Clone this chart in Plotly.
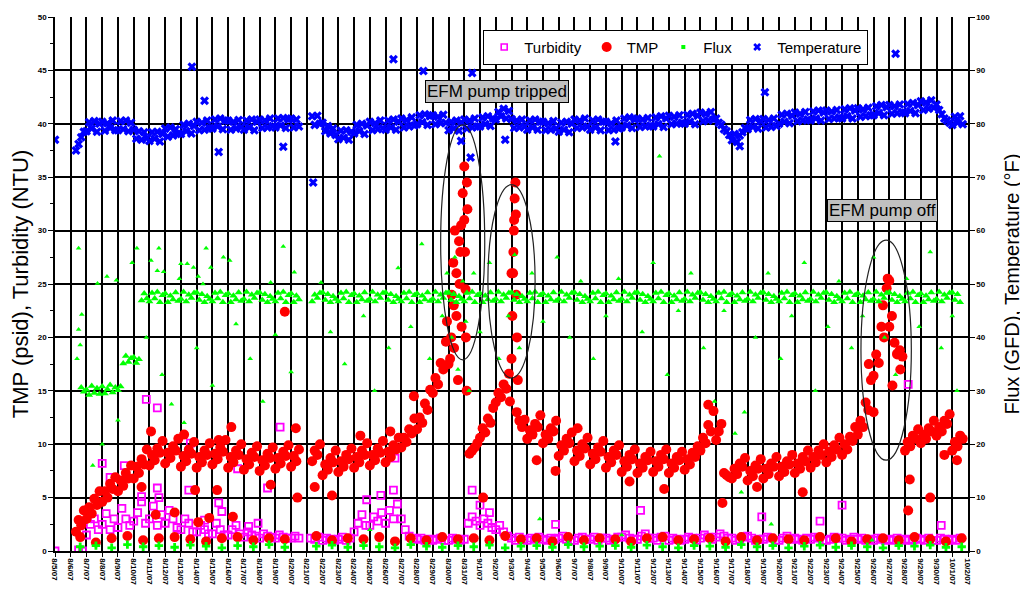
import datetime as dt
import plotly.graph_objects as go

START = dt.datetime(2007, 8, 5)
N_DAYS = 58
N = None

# ---- TMP (psid), 6 samples per day (every 4 h) ----
TMP_PSI = [
    N, N, N, N, N, N,                  # 0
    N, N, 1.8, 2.9, 2.4, 3.8,          # 1
    3.0, 4.1, 3.5, 4.9, 4.3, 5.6,      # 2
    4.6, 5.6, 5.0, 6.3, 5.8, 6.9,      # 3
    5.6, 6.6, 6.1, 7.3, 6.8, 8.0,      # 4
    6.8, 7.9, 7.3, 8.6, 8.1, 9.5,      # 5
    8.0, 9.0, 8.5, 9.6, 9.2, 10.3,     # 6
    8.2, 9.2, 8.7, 9.8, 9.4, 10.5,     # 7
    7.9, 8.9, 8.4, 9.5, 9.1, 10.2,     # 8
    7.8, 8.8, 8.3, 9.4, 9.0, 10.1,     # 9
    8.1, 9.1, 8.6, 9.7, 9.3, 10.4,     # 10
    7.8, 8.8, 8.3, 9.4, 9.0, 10.0,     # 11
    7.6, 8.6, 8.1, 9.2, 8.8, 9.8,      # 12
    7.5, 8.5, 8.0, 9.1, 8.7, 9.7,      # 13
    7.7, 8.7, 8.2, 9.3, 8.9, 9.9,      # 14
    7.9, 8.9, 8.4, 9.5, N, N,          # 15
    N, N, 8.4, 9.4, 9.0, 10.0,         # 16
    7.1, 8.1, 7.6, 8.7, 8.3, 9.4,      # 17
    7.4, 8.4, 7.9, 9.0, 8.6, 9.6,      # 18
    7.8, 8.8, 8.3, 9.4, 9.0, 10.1,     # 19
    8.0, 9.0, 8.5, 9.6, 9.2, 10.3,     # 20
    8.3, 9.3, 8.8, 9.9, 9.5, 10.6,     # 21
    9.7, 10.6, 10.2, 11.4, 11.0, 12.4,     # 22
    11.4, 12.5, 12.0, 13.8, 13.2, 15.1,    # 23
    14.8, 16.2, 15.6, 17.6, 17.0, 19.6,    # 24
    17.5, 20.0, 23.0, 26.0, 29.0, 21.0,    # 25
    31.0, 34.5, 9.1, 9.4, 9.7, 10.1,       # 26
    10.6, 11.5, 11.1, 12.4, 12.0, 13.4,    # 27
    13.9, 14.8, 14.4, 15.6, 15.2, 16.6,    # 28
    26.0, 31.0, 13.0, 12.2, 11.6, 12.3,    # 29
    10.5, 11.3, 10.9, 11.9, 11.6, 12.7,    # 30
    10.1, 10.9, 10.5, 11.5, 11.2, 12.2,    # 31
    8.9, 9.9, 9.4, 10.5, 10.1, 11.1,       # 32
    8.4, 9.4, 8.9, 10.0, 9.6, 10.6,        # 33
    8.1, 9.1, 8.6, 9.7, 9.3, 10.3,         # 34
    7.8, 8.8, 8.3, 9.4, 9.0, 9.9,          # 35
    7.4, 8.4, 7.9, 9.0, 8.6, 9.5,          # 36
    7.3, 8.2, 7.8, 8.8, 8.5, 9.3,          # 37
    7.4, 8.4, 7.9, 9.0, 8.6, 9.5,          # 38
    7.3, 8.2, 7.8, 8.8, 8.5, 9.3,          # 39
    7.6, 8.6, 8.1, 9.2, 8.8, 9.8,          # 40
    9.4, 10.6, 10.1, 11.8, 11.2, 13.1,     # 41
    10.4, 11.2, 11.9, 7.3, 7.1, 6.9,       # 42
    6.8, 7.7, 7.2, 8.2, 7.9, 8.7,          # 43
    6.6, 7.5, 7.0, 8.0, 7.7, 8.6,          # 44
    6.8, 7.7, 7.2, 8.2, 7.9, 8.8,          # 45
    7.0, 7.9, 7.4, 8.4, 8.1, 9.0,          # 46
    7.3, 8.2, 7.7, 8.8, 8.4, 9.4,          # 47
    7.8, 8.8, 8.3, 9.4, 9.0, 10.0,         # 48
    8.3, 9.3, 8.8, 9.9, 9.5, 10.6,         # 49
    9.0, 10.0, 9.5, 10.7, 10.3, 11.6,      # 50
    10.9, 12.2, 11.6, 13.9, 13.2, 16.0,    # 51
    16.4, 18.4, 17.6, 21.0, 20.0, 24.6,    # 52
    25.3, 22.0, 19.5, 18.4, 18.8, 18.2,    # 53
    9.4, 10.2, 9.8, 10.8, 10.5, 11.4,      # 54
    10.1, 10.9, 10.5, 11.5, 11.2, 12.2,    # 55
    10.8, 11.6, 11.2, 12.2, 11.9, 12.8,    # 56
    9.4, 10.2, 9.8, 10.8, 10.5, N,         # 57
]
# one low TMP reading per day (pump stop), at day + 0.6
TMP_LOW = [N, 1.3, 0.8, 1.2, 1.4, 1.0, 1.2, 1.3, 1.1, 0.9, 1.2, 1.3, 1.0, 1.2, 1.1, N,
           1.4, 1.0, 1.2, 1.1, 1.3, 0.9, 1.2, 1.0, 1.3, 1.1, 1.2, 1.0, 1.4, 1.1, 1.2, 0.9,
           1.3, 1.0, 1.2, 1.1, 0.9, 1.2, 1.3, 1.0, 1.1, 1.2, 0.9, 1.3, 1.0, 1.2, 1.1, 1.0,
           1.3, 1.2, 0.9, 1.1, 1.2, 1.0, 1.3, 1.1, 0.9, 1.2]
TMP_EXTRA_DAY = [5.5, 6.4, 7.6, 8.9, 9.1, 9.8, 10.3, 11.3, 13.7, 14.6, 6.1, 8.2, 10.4, 11.2,
                 15.3, 15.4, 16.5, 17.6, 19.4, 21.3, 22.8, 24.9, 25.1, 25.2, 25.3, 25.4, 25.5,
                 25.6, 25.7, 25.8, 25.9, 26.0, 26.05, 26.1, 26.15, 26.2, 27.2, 28.9, 29.0,
                 29.05, 29.1, 29.15, 29.2, 29.25, 29.3, 29.35, 29.4, 30.6, 31.8, 33.2, 36.5,
                 38.7, 41.5, 42.4, 44.6, 47.5, 51.7, 52.0, 52.6, 52.9, 53.0, 53.2, 53.5, 53.7,
                 54.3, 54.2, 55.6, 56.5, 57.3, 25.35, 25.75, 26.08, 29.12, 29.28]
TMP_EXTRA_VAL = [6.0, 3.4, 3.6, 5.7, 2.7, 3.1, 5.7, 3.2, 6.2, 22.4, 11.2, 10.9, 10.4, 11.6,
                 11.5, 5.0, 6.0, 5.2, 10.8, 11.2, 14.5, 21.5, 18.0, 24.0, 27.0, 30.0, 22.0,
                 16.0, 25.0, 30.5, 33.5, 36.0, 28.0, 20.0, 15.0, 32.0, 5.0, 14.0, 18.0,
                 22.0, 26.0, 30.0, 33.0, 34.5, 24.0, 20.0, 16.0, 8.5, 7.5, 11.5, 6.5,
                 5.8, 13.7, 4.5, 6.0, 5.5, 17.5, 13.0, 23.0, 25.5, 21.0, 15.5, 18.5, 17.0,
                 6.7, 3.8, 5.0, 9.0, 8.5, 19.0, 28.0, 24.5, 28.0, 31.5]

# ---- Turbidity (NTU), 4 samples per day (every 6 h) ----
TURB_NTU = [
    0.0, N, N, N,        # 0
    N, N, 0.1, 0.0,      # 1
    1.5, 2.5, 3.0, 2.0,  # 2
    2.5, 3.5, 2.0, 3.0,  # 3
    2.2, 4.0, 3.0, 2.4,  # 4
    2.8, 3.6, 4.6, 2.6,  # 5
    3.0, 4.2, 2.4, 3.4,  # 6
    2.6, 3.8, 3.0, 2.2,  # 7
    2.0, 3.0, 2.6, 1.8,  # 8
    1.8, 2.4, 2.0, 1.6,  # 9
    1.6, 2.6, 2.0, 1.5,  # 10
    1.5, 2.0, 2.4, 1.6,  # 11
    1.3, 1.8, 1.5, 1.4,  # 12
    1.2, 1.6, 1.4, 1.3,  # 13
    1.2, 1.5, 1.3, 1.2,  # 14
    1.2, 1.4, 1.2, N,    # 15
    N, 1.2, 1.1, 1.3,    # 16
    1.0, 1.2, 1.1, 1.0,  # 17
    1.1, 1.3, 1.0, 1.2,  # 18
    1.8, 2.6, 3.4, 2.4,  # 19
    2.4, 3.2, 2.8, 3.6,  # 20
    2.6, 3.8, 3.0, 4.4,  # 21
    3.0, 2.0, 1.4, 1.2,  # 22
    1.1, 1.2, 1.0, 1.1,  # 23
    1.0, 1.1, 1.2, 1.0,  # 24
    1.0, 1.2, 1.1, 1.0,  # 25
    1.1, 2.6, 3.2, 2.8,  # 26
    2.4, 3.0, 2.6, 2.2,  # 27
    2.0, 2.4, 1.8, 1.4,  # 28
    1.2, 1.0, 1.3, 1.1,  # 29
    1.0, 1.2, 1.1, 1.3,  # 30
    1.1, 1.0, 1.2, 1.1,  # 31
    1.2, 1.4, 1.1, 1.0,  # 32
    1.0, 1.2, 1.3, 1.1,  # 33
    1.1, 1.3, 1.0, 1.2,  # 34
    1.2, 1.0, 1.1, 1.3,  # 35
    1.3, 1.5, 1.2, 1.1,  # 36
    1.1, 1.4, 1.6, 1.2,  # 37
    1.2, 1.0, 1.3, 1.4,  # 38
    1.0, 1.2, 1.1, 1.0,  # 39
    1.1, 1.3, 1.2, 1.0,  # 40
    1.2, 1.5, 1.3, 1.1,  # 41
    1.3, 1.6, 1.4, 1.2,  # 42
    1.2, 1.0, 1.1, 1.3,  # 43
    1.4, 1.2, 1.0, 1.1,  # 44
    1.1, 1.3, 1.2, 1.0,  # 45
    1.0, 1.2, 1.4, 1.1,  # 46
    1.2, 1.1, 1.0, 1.2,  # 47
    1.1, 1.3, 1.2, 1.0,  # 48
    1.0, 1.1, 1.3, 1.2,  # 49
    1.2, 1.0, 1.1, 1.3,  # 50
    1.1, 1.2, 1.0, 1.1,  # 51
    1.0, 1.2, 1.1, 1.0,  # 52
    1.1, 1.0, 1.2, 1.1,  # 53
    1.0, 1.1, 1.0, 1.2,  # 54
    1.1, 1.0, 1.2, 1.0,  # 55
    1.0, 1.2, 1.1, 1.0,  # 56
    1.1, 1.0, 1.2, N,    # 57
]
TURB_EXTRA_DAY = [5.8, 6.5, 3.0, 3.5, 4.4, 6.5, 6.6, 8.6, 8.5, 10.4, 10.6, 11.6, 13.5, 14.3,
                  5.5, 9.5, 12.3, 12.9, 21.6, 21.5, 19.8, 20.7, 26.5, 27.0, 27.6, 31.8,
                  37.2, 50.0, 54.2, 48.6, 44.9, 56.3]
TURB_EXTRA_VAL = [14.2, 13.4, 8.2, 6.9, 8.0, 5.9, 5.0, 10.1, 5.7, 4.5, 3.7, 7.7, 5.9, 11.6,
                  5.1, 2.9, 2.3, 2.6, 8.7, 5.7, 4.8, 5.2, 5.7, 4.3, 3.6, 2.5,
                  3.8, 4.3, 15.6, 2.8, 3.2, 2.4]

# ---- Flux (GFD), 6 samples per day ----
FLUX_GFD = [
    N, N, N, N, N, N,                    # 0
    N, N, N, N, 30.6, 29.8,              # 1
    30.2, 29.2, 30.9, 29.6, 30.5, 29.4,  # 2
    30.8, 29.5, 30.3, 31.1, 29.7, 30.6,  # 3
    30.1, 30.8, 35.1, 36.5, 35.4, 36.1,  # 4
    36.3, 35.2, 35.9, 46.9, 48.2, 47.3,  # 5
    46.7, 48.3, 47.3, 48.5, 46.6, 47.9,  # 6
    48.2, 46.6, 47.8, 47.1, 48.4, 46.8,  # 7
    47.2, 48.5, 46.7, 48.0, 47.4, 48.3,  # 8
    48.4, 47.0, 48.1, 46.6, 47.7, 47.2,  # 9
    46.7, 48.3, 47.3, 48.5, 46.6, 47.9,  # 10
    48.2, 46.6, 47.8, 47.1, 48.4, 46.8,  # 11
    47.2, 48.5, 46.7, 48.0, 47.4, 48.3,  # 12
    48.4, 47.0, 48.1, 46.6, 47.7, 47.2,  # 13
    46.7, 48.3, 47.3, 48.5, 46.6, 47.9,  # 14
    48.2, 46.6, 47.8, 47.1, N, N,        # 15
    N, N, 46.7, 48.0, 47.4, 48.3,        # 16
    48.4, 47.0, 48.1, 46.6, 47.7, 47.2,  # 17
    46.7, 48.3, 47.3, 48.5, 46.6, 47.9,  # 18
    48.2, 46.6, 47.8, 47.1, 48.4, 46.8,  # 19
    47.2, 48.5, 46.7, 48.0, 47.4, 48.3,  # 20
    48.4, 47.0, 48.1, 46.6, 47.7, 47.2,  # 21
    46.7, 48.3, 47.3, 48.5, 46.6, 47.9,  # 22
    48.2, 46.6, 47.8, 47.1, 48.4, 46.8,  # 23
    47.2, 48.5, 46.7, 48.0, 47.4, 48.3,  # 24
    48.4, 47.0, 48.1, 46.6, 47.7, 47.2,  # 25
    46.7, 48.3, 47.3, 48.5, 46.6, 47.9,  # 26
    48.2, 46.6, 47.8, 47.1, 48.4, 46.8,  # 27
    47.2, 48.5, 46.7, 48.0, 47.4, 48.3,  # 28
    48.4, 47.0, 48.1, 46.6, 47.7, 47.2,  # 29
    46.7, 48.3, 47.3, 48.5, 46.6, 47.9,  # 30
    48.2, 46.6, 47.8, 47.1, 48.4, 46.8,  # 31
    47.2, 48.5, 46.7, 48.0, 47.4, 48.3,  # 32
    48.4, 47.0, 48.1, 46.6, 47.7, 47.2,  # 33
    46.7, 48.3, 47.3, 48.5, 46.6, 47.9,  # 34
    48.2, 46.6, 47.8, 47.1, 48.4, 46.8,  # 35
    47.2, 48.5, 46.7, 48.0, 47.4, 48.3,  # 36
    48.4, 47.0, 48.1, 46.6, 47.7, 47.2,  # 37
    46.7, 48.3, 47.3, 48.5, 46.6, 47.9,  # 38
    48.2, 46.6, 47.8, 47.1, 48.4, 46.8,  # 39
    47.2, 48.5, 46.7, 48.0, 47.4, 48.3,  # 40
    48.4, 47.0, 48.1, 46.6, 47.7, 47.2,  # 41
    46.7, 48.3, 47.3, 48.5, 46.6, 47.9,  # 42
    48.2, 46.6, 47.8, 47.1, 48.4, 46.8,  # 43
    47.2, 48.5, 46.7, 48.0, 47.4, 48.3,  # 44
    48.4, 47.0, 48.1, 46.6, 47.7, 47.2,  # 45
    46.7, 48.3, 47.3, 48.5, 46.6, 47.9,  # 46
    48.2, 46.6, 47.8, 47.1, 48.4, 46.8,  # 47
    47.2, 48.5, 46.7, 48.0, 47.4, 48.3,  # 48
    48.4, 47.0, 48.1, 46.6, 47.7, 47.2,  # 49
    46.7, 48.3, 47.3, 48.5, 46.6, 47.9,  # 50
    48.2, 46.6, 47.8, 47.1, 48.4, 46.8,  # 51
    47.2, 48.5, 46.7, 48.0, 47.4, 48.3,  # 52
    48.4, 47.0, 48.1, 46.6, 47.7, 47.2,  # 53
    46.7, 48.3, 47.3, 48.5, 46.6, 47.9,  # 54
    48.2, 46.6, 47.8, 47.1, 48.4, 46.8,  # 55
    47.2, 48.5, 46.7, 48.0, 47.4, 48.3,  # 56
    48.4, 47.0, 48.1, 46.6, N, N,        # 57
]
FLUX_LOW = [N, 0.8, 1.0, 0.6, 1.2, 0.8, 1.0, 0.7, 1.1, 0.9, 0.6, 1.0, 0.8, 1.2, 0.7, N,
            0.9, 1.1, 0.7, 1.0, 0.8, 0.6, 1.2, 0.9, 0.7, 1.0, 0.8, 1.1, 0.6, 0.9, 1.0, 0.7,
            1.2, 0.8, 0.9, 1.0, 0.7, 1.1, 0.8, 0.6, 1.0, 0.9, 0.7, 1.2, 0.8, 1.0, 0.6, 0.9,
            1.1, 0.7, 1.0, 0.8, 0.6, 1.0, 0.9, 1.1, 0.7, 0.8]
FLUX_EXTRA_DAY = [1.5, 2.7, 3.3, 3.9, 4.9, 5.2, 6.1, 6.5, 6.6, 6.9, 8.0, 8.4, 8.8, 9.1, 9.6,
                  9.9, 10.7, 11.1, 7.9, 9.4, 14.5, 15.2, 13.7, 16.9, 1.5, 1.6, 1.7, 1.4,
                  5.8, 6.8, 7.4, 8.2, 9.0, 10.0, 11.5, 12.4, 13.2, 14.0, 15.0, 3.0, 4.0, 2.4,
                  17.5, 18.4, 19.6, 20.3, 21.2, 21.8, 22.6, 23.3, 23.8, 24.6, 24.9, 25.2,
                  25.4, 25.6, 25.9, 26.1, 26.3, 26.6, 27.0, 27.6, 28.2, 28.8, 29.2, 29.5,
                  30.3, 31.0, 31.9, 32.7, 33.4, 34.2, 35.0, 35.8, 38.4, 37.3, 38.0, 38.9,
                  39.6, 40.4, 41.2, 41.9, 42.5, 43.2, 43.8, 44.5, 45.3, 46.1, 46.8, 47.6,
                  48.3, 49.1, 49.8, 50.6, 51.3, 52.0, 52.7, 53.4, 54.1, 54.9, 55.6, 56.3,
                  57.0, 57.3, 20.0, 30.8, 36.0, 45.5, 51.9, 43.6]
FLUX_EXTRA_VAL = [56.7, 50.1, 51.4, 50.7, 54.0, 56.7, 54.4, 52.5, 56.7, 52.3, 53.8, 53.8, 53.1,
                  51.4, 56.7, 53.1, 55.0, 54.4, 51.0, 50.0, 57.0, 52.2, 50.3, 50.3, 41.5,
                  38.6, 44.3, 36.0, 40.0, 33.0, 27.5, 24.0, 38.0, 31.0, 42.5, 36.0, 28.0,
                  40.5, 33.5, 20.0, 24.5, 16.0, 41.0, 35.0, 44.0, 30.0, 38.0, 53.0, 42.0,
                  57.5, 36.0, 44.0, 52.0, 40.0, 55.0, 34.0, 50.5, 43.0, 30.0, 52.0, 41.0,
                  54.0, 36.0, 44.0, 55.5, 38.0, 52.0, 43.0, 55.0, 40.0, 50.5, 36.0, 44.0,
                  51.0, 73.9, 41.0, 54.0, 33.0, 45.0, 52.0, 38.0, 28.0, 45.0, 22.0, 26.0,
                  40.0, 52.0, 36.0, 44.0, 54.0, 30.0, 42.0, 50.5, 38.0, 44.0, 55.0, 40.0,
                  33.0, 51.0, 42.0, 56.0, 38.0, 44.0, 30.0, 4.0, 6.0, 3.0, 5.0, 2.0, 11.0]

# ---- Temperature (F), 6 samples per day ----
TEMP_F = [
    77.0, N, N, N, N, N,                 # 0
    N, N, 75.0, 76.2, 77.5, 78.5,        # 1
    78.6, 80.3, 79.1, 80.5, 78.5, 80.0,  # 2
    80.4, 78.7, 80.1, 79.2, 80.6, 78.8,  # 3
    78.8, 80.5, 79.0, 80.6, 78.6, 80.2,  # 4
    78.9, 77.2, 78.6, 77.0, 78.4, 77.3,  # 5
    76.8, 78.4, 77.2, 78.5, 76.7, 78.1,  # 6
    79.1, 77.6, 79.3, 77.8, 79.0, 78.2,  # 7
    78.1, 79.8, 78.6, 80.0, 78.2, 79.6,  # 8
    80.4, 78.8, 80.2, 78.9, 80.6, 79.2,  # 9
    79.1, 80.8, 79.5, 81.0, 79.0, 80.6,  # 10
    80.6, 78.9, 80.4, 79.1, 80.7, 79.4,  # 11
    78.9, 80.6, 79.3, 80.8, 78.8, 80.4,  # 12
    80.8, 79.2, 80.6, 79.3, 81.0, 79.6,  # 13
    79.3, 81.0, 79.7, 81.1, 79.2, 80.8,  # 14
    81.0, 79.3, 80.8, 79.5, N, N,        # 15
    N, N, 81.4, 79.8, 81.5, 80.0,        # 16
    80.2, 78.6, 79.6, 78.2, 79.1, 77.9,  # 17
    77.1, 78.7, 77.4, 78.8, 77.0, 78.5,  # 18
    78.2, 79.8, 78.6, 80.0, 78.1, 79.7,  # 19
    80.4, 78.8, 80.1, 79.0, 80.6, 79.2,  # 20
    78.9, 80.6, 79.3, 80.8, 78.9, 80.4,  # 21
    81.0, 79.3, 80.7, 79.5, 81.2, 79.7,  # 22
    79.9, 81.6, 80.3, 81.8, 79.8, 81.4,  # 23
    81.6, 79.9, 81.3, 80.1, 81.7, 80.2,  # 24
    78.8, 80.4, 79.1, 80.6, 78.7, 80.2,  # 25
    80.8, 79.1, 80.6, 79.3, 81.0, 79.5,  # 26
    79.5, 81.2, 79.9, 81.4, 79.6, 81.0,  # 27
    80.8, 82.2, 81.4, 82.8, 81.0, 82.4,  # 28
    80.9, 79.2, 80.6, 79.3, 80.8, 79.5,  # 29
    78.9, 80.6, 79.3, 80.8, 78.9, 80.4,  # 30
    80.4, 78.8, 80.1, 78.9, 80.5, 79.1,  # 31
    78.5, 80.2, 78.9, 80.4, 78.4, 80.0,  # 32
    80.8, 79.2, 80.6, 79.3, 81.0, 79.5,  # 33
    78.9, 80.6, 79.3, 80.8, 78.8, 80.4,  # 34
    80.4, 78.8, 80.1, 78.9, 80.6, 79.1,  # 35
    79.3, 81.0, 79.7, 81.2, 79.2, 80.8,  # 36
    81.0, 79.4, 80.8, 79.5, 81.1, 79.7,  # 37
    79.5, 81.2, 79.9, 81.4, 79.4, 81.0,  # 38
    81.5, 79.9, 81.3, 80.0, 81.6, 80.2,  # 39
    80.0, 81.7, 80.4, 81.9, 79.9, 81.5,  # 40
    82.1, 80.5, 81.9, 80.6, 82.2, 80.8,  # 41
    81.0, 80.2, 79.8, 79.0, 78.6, 77.9,  # 42
    76.9, 78.1, 76.6, 77.8, 78.4, 79.2,  # 43
    79.0, 80.7, 79.4, 80.9, 79.1, 80.5,  # 44
    80.9, 79.3, 80.7, 79.4, 81.0, 79.6,  # 45
    80.0, 81.7, 80.4, 81.9, 80.1, 81.5,  # 46
    82.1, 80.5, 81.9, 80.6, 82.2, 80.8,  # 47
    80.6, 82.3, 81.0, 82.5, 80.6, 82.1,  # 48
    82.5, 80.9, 82.3, 81.0, 82.6, 81.2,  # 49
    81.0, 82.7, 81.4, 82.9, 81.0, 82.5,  # 50
    82.9, 81.3, 82.7, 81.4, 83.0, 81.6,  # 51
    81.6, 83.3, 82.0, 83.5, 81.6, 83.1,  # 52
    83.5, 81.9, 83.3, 82.0, 83.6, 82.2,  # 53
    82.0, 83.7, 82.4, 83.9, 82.0, 83.5,  # 54
    84.2, 82.6, 84.0, 82.8, 84.4, 83.0,  # 55
    83.6, 82.6, 81.8, 81.0, 80.6, 80.2,  # 56
    79.8, 81.3, 80.2, 81.4, 79.9, N,     # 57
]
TEMP_EXTRA_DAY = [8.7, 9.5, 10.4, 14.5, 16.4, 21.5, 23.4, 25.8, 26.4, 26.5, 28.6, 30.2,
                  39.4, 51.2, 53.4, 45.1, 35.6, 43.5]
TEMP_EXTRA_VAL = [90.7, 84.3, 74.7, 75.7, 69.0, 92.1, 89.9, 76.8, 73.7, 89.5, 77.0, 92.7,
                  92.7, 94.4, 93.1, 85.9, 76.7, 75.8]

SERIES_NAMES = ["Turbidity", "TMP", "Flux", "Temperature"]


def t_samples(n, per_day):
    return [START + dt.timedelta(hours=24 / per_day * i) for i in range(n)]


def t_days(days, offset=0.0):
    return [START + dt.timedelta(days=d + offset) for d in days]


DAILY = list(range(N_DAYS))

C_TURB, C_TMP, C_FLUX, C_TEMP = "#FF00FF", "#FF0000", "#00FF00", "#0000FF"
FONT = "Liberation Sans, Arial, sans-serif"

m_turb = dict(symbol="square-open", color=C_TURB, size=7, line=dict(width=1.8, color=C_TURB))
m_tmp = dict(symbol="circle", color=C_TMP, size=10, line=dict(width=0))
m_flux = dict(symbol="triangle-up", color=C_FLUX, size=7, line=dict(width=0))
m_temp = dict(symbol="x", color=C_TEMP, size=8, line=dict(width=0))

fig = go.Figure()


def add(x, y, marker, axis="y"):
    fig.add_trace(go.Scatter(x=x, y=y, mode="markers", marker=marker, yaxis=axis,
                             showlegend=False, hoverinfo="skip"))


# Turbidity
add(t_samples(len(TURB_NTU), 4), TURB_NTU, m_turb)
add(t_days(TURB_EXTRA_DAY), TURB_EXTRA_VAL, m_turb)
# TMP
add(t_samples(len(TMP_PSI), 6), TMP_PSI, m_tmp)
add(t_days(DAILY, 0.6), TMP_LOW, m_tmp)
add(t_days(TMP_EXTRA_DAY), TMP_EXTRA_VAL, m_tmp)
# Flux (secondary axis)
add(t_samples(len(FLUX_GFD), 6), FLUX_GFD, m_flux, "y2")
add(t_days(DAILY, 0.6), FLUX_LOW, dict(symbol="cross", color=C_FLUX, size=7, line=dict(width=0)), "y2")
add(t_days(FLUX_EXTRA_DAY), FLUX_EXTRA_VAL, dict(symbol="triangle-up", color=C_FLUX, size=5), "y2")
# Temperature (secondary axis)
add(t_samples(len(TEMP_F), 6), TEMP_F, m_temp, "y2")
add(t_days(TEMP_EXTRA_DAY), TEMP_EXTRA_VAL, m_temp, "y2")

# legend entries (legend-only keys with the reference's key sizes)
legend_markers = [
    dict(symbol="square-open", color=C_TURB, size=6, line=dict(width=1.6, color=C_TURB)),
    dict(symbol="circle", color=C_TMP, size=10),
    dict(symbol="square", color=C_FLUX, size=4),
    dict(symbol="x", color=C_TEMP, size=7),
]
for name, mk in zip(SERIES_NAMES, legend_markers):
    fig.add_trace(go.Scatter(x=[None], y=[None], mode="markers", name=name, marker=mk,
                             showlegend=True))

tickfont = dict(family=FONT, size=8, color="black", weight="bold")


def d(day):
    return START + dt.timedelta(days=day)


ellipses = [(24.5, 27.3, 17.9, 39.9), (27.5, 30.5, 16.2, 34.3), (51.2, 54.4, 8.5, 29.1)]
shapes = [dict(type="circle", xref="x", yref="y", x0=d(a), x1=d(b), y0=lo, y1=hi,
               line=dict(color="#222222", width=1.2)) for a, b, lo, hi in ellipses]

fig.update_layout(
    width=1020, height=595,
    margin=dict(l=47, r=60, t=9, b=52),
    paper_bgcolor="white", plot_bgcolor="white",
    font=dict(family=FONT, color="black"),
    showlegend=True,
    legend=dict(orientation="h", x=0.469, y=0.976, xanchor="left", yanchor="top",
                bgcolor="white", bordercolor="black", borderwidth=1,
                font=dict(family=FONT, size=15, color="black"),
                itemwidth=30, tracegroupgap=0),
    xaxis=dict(type="date", range=[d(0), d(N_DAYS)], dtick=86400000, tick0=d(0),
               tickformat="%-m/%-d/%y", tickangle=90, tickfont=tickfont,
               showgrid=True, gridcolor="black", gridwidth=1.5,
               showline=True, linecolor="black", linewidth=1.5,
               ticks="outside", ticklen=4, tickcolor="black", zeroline=False),
    yaxis=dict(range=[0, 50], dtick=5, tickfont=tickfont,
               showgrid=True, gridcolor="black", gridwidth=1.5,
               showline=True, linecolor="black", linewidth=1.5,
               ticks="outside", ticklen=5, tickcolor="black", zeroline=False,
               minor=dict(ticks="outside", dtick=2.5, ticklen=3, tickcolor="black", showgrid=False),
               title=dict(text="TMP (psid), Turbidity (NTU)", font=dict(family=FONT, size=22),
                          standoff=9),
               automargin=False),
    yaxis2=dict(range=[0, 100], dtick=10, overlaying="y", side="right", tickfont=tickfont,
                showgrid=False, showline=True, linecolor="black", linewidth=1.5,
                ticks="outside", ticklen=5, tickcolor="black", zeroline=False,
                title=dict(text="Flux (GFD), Temperature (°F)", font=dict(family=FONT, size=20),
                           standoff=16),
                automargin=False),
    shapes=shapes,
    annotations=[
        dict(text="EFM pump tripped", xref="paper", yref="paper", x=0.484, y=0.860,
             xanchor="center", yanchor="middle",
             showarrow=False, font=dict(family=FONT, size=17, color="black"),
             bgcolor="#C0C0C0", bordercolor="black", borderwidth=1, borderpad=1),
        dict(text="EFM pump off", xref="paper", yref="paper", x=0.906, y=0.637,
             xanchor="center", yanchor="middle",
             showarrow=False, font=dict(family=FONT, size=17, color="black"),
             bgcolor="#C0C0C0", bordercolor="black", borderwidth=1, borderpad=1),
    ],
)

fig.write_html("out.html")
